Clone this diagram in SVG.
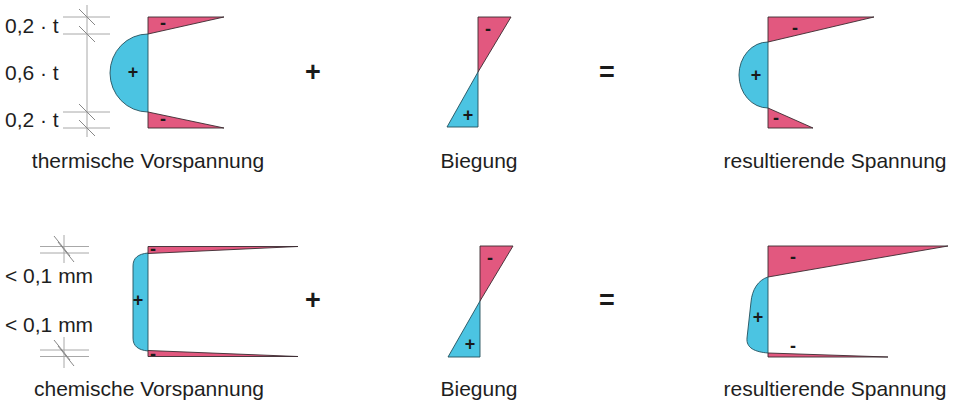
<svg xmlns="http://www.w3.org/2000/svg" width="953" height="406" viewBox="0 0 953 406">
<style>
.pk{fill:#e2587f;stroke:#3a2a30;stroke-width:0.9}
.bl{fill:#4bc4e2;stroke:#24505c;stroke-width:0.9}
.dim{stroke:#a8a8a8;stroke-width:1;fill:none}
.sl{stroke:#888;stroke-width:1;fill:none}
.lbl{font-family:"Liberation Sans",Arial,sans-serif;font-size:21px;fill:#1e1e1e}
.dl{font-family:"Liberation Sans",Arial,sans-serif;font-size:21px;fill:#1e1e1e}
.sg{font-family:"Liberation Sans",Arial,sans-serif;font-size:18px;font-weight:bold;fill:#1a1a1a;text-anchor:middle}
.op{font-family:"Liberation Sans",Arial,sans-serif;font-size:27px;font-weight:bold;fill:#1a1a1a;text-anchor:middle}
</style>
<rect width="953" height="406" fill="#ffffff"/>

<!-- Top row: thermische Vorspannung -->
<g id="dim-top">
<line class="dim" x1="87" y1="5" x2="87" y2="137"/>
<line class="dim" x1="63" y1="17" x2="110" y2="17"/>
<line class="dim" x1="63" y1="34" x2="110" y2="34"/>
<line class="dim" x1="63" y1="112" x2="110" y2="112"/>
<line class="dim" x1="63" y1="128" x2="110" y2="128"/>
<line class="sl" x1="79" y1="9" x2="95" y2="25"/>
<line class="sl" x1="79" y1="26" x2="95" y2="42"/>
<line class="sl" x1="79" y1="104" x2="95" y2="120"/>
<line class="sl" x1="79" y1="120" x2="95" y2="136"/>
<text class="dl" x="5" y="33">0,2 · t</text>
<text class="dl" x="5" y="80">0,6 · t</text>
<text class="dl" x="5" y="127">0,2 · t</text>
</g>
<g id="thermisch">
<path class="bl" d="M148,34 A38,39 0 0 0 148,112 Z"/>
<path class="pk" d="M148,17 L224,17 L148,34 Z"/>
<path class="pk" d="M148,112 L224,128 L148,128 Z"/>
<text class="sg" x="163" y="29">-</text>
<text class="sg" x="133" y="78">+</text>
<text class="sg" x="163" y="125">-</text>
<text class="lbl" x="148" y="168" text-anchor="middle">thermische Vorspannung</text>
</g>
<g id="plus-top"><text class="op" x="313" y="81">+</text></g>
<g id="biegung-top">
<path class="pk" d="M478,17 L511,17 L478,72 Z"/>
<path class="bl" d="M478,72 L478,127 L447,127 Z"/>
<text class="sg" x="488" y="35">-</text>
<text class="sg" x="468" y="121">+</text>
<text class="lbl" x="479" y="168" text-anchor="middle">Biegung</text>
</g>
<g id="equal-top"><text class="op" x="607" y="81">=</text></g>
<g id="result-top">
<path class="bl" d="M768,42 A29,33 0 0 0 768,108 Z"/>
<path class="pk" d="M768,17 L874,17 L768,42 Z"/>
<path class="pk" d="M768,108 L813,128 L768,128 Z"/>
<text class="sg" x="795" y="34">-</text>
<text class="sg" x="756" y="81">+</text>
<text class="sg" x="776" y="124">-</text>
<text class="lbl" x="835" y="168" text-anchor="middle">resultierende Spannung</text>
</g>

<!-- Bottom row: chemische Vorspannung -->
<g id="dim-bottom">
<line class="dim" x1="40" y1="246.5" x2="89" y2="246.5"/>
<line class="dim" x1="40" y1="253" x2="89" y2="253"/>
<line class="dim" x1="64" y1="235" x2="64" y2="263"/>
<line class="sl" x1="54" y1="236" x2="70" y2="256"/>
<line class="sl" x1="58" y1="242" x2="74" y2="262"/>
<line class="dim" x1="40" y1="350" x2="89" y2="350"/>
<line class="dim" x1="40" y1="356.5" x2="89" y2="356.5"/>
<line class="dim" x1="64" y1="337" x2="64" y2="368"/>
<line class="sl" x1="54" y1="340" x2="70" y2="360"/>
<line class="sl" x1="58" y1="346" x2="74" y2="366"/>
<text class="dl" x="5" y="283">&lt; 0,1 mm</text>
<text class="dl" x="5" y="332">&lt; 0,1 mm</text>
</g>
<g id="chemisch">
<path class="bl" d="M148,253 C138,254 133,258 133,266 L133,338 C133,346 138,350 148,351 Z"/>
<path class="pk" d="M148,246.5 L298,246.5 L148,253.5 Z"/>
<path class="pk" d="M148,350.5 L298,356.5 L148,356.5 Z"/>
<text class="sg" x="153" y="255">-</text>
<text class="sg" x="138" y="306">+</text>
<text class="sg" x="153" y="360">-</text>
<text class="lbl" x="149" y="396" text-anchor="middle">chemische Vorspannung</text>
</g>
<g id="plus-bottom"><text class="op" x="313" y="309">+</text></g>
<g id="biegung-bottom">
<path class="pk" d="M480,246 L513,246 L480,301 Z"/>
<path class="bl" d="M480,301 L480,357 L448,357 Z"/>
<text class="sg" x="490" y="264">-</text>
<text class="sg" x="470" y="350">+</text>
<text class="lbl" x="479" y="396" text-anchor="middle">Biegung</text>
</g>
<g id="equal-bottom"><text class="op" x="607" y="309">=</text></g>
<g id="result-bottom">
<path class="bl" d="M768,277 C758,280 752,290 751,302 L747,338 C746,348 755,352 768,353 Z"/>
<path class="pk" d="M768,246 L948,246 L768,277 Z"/>
<path class="pk" d="M768,353 L888,357 L768,357 Z"/>
<text class="sg" x="793" y="263">-</text>
<text class="sg" x="758" y="323">+</text>
<text class="sg" x="793" y="352">-</text>
<text class="lbl" x="835" y="396" text-anchor="middle">resultierende Spannung</text>
</g>
</svg>
